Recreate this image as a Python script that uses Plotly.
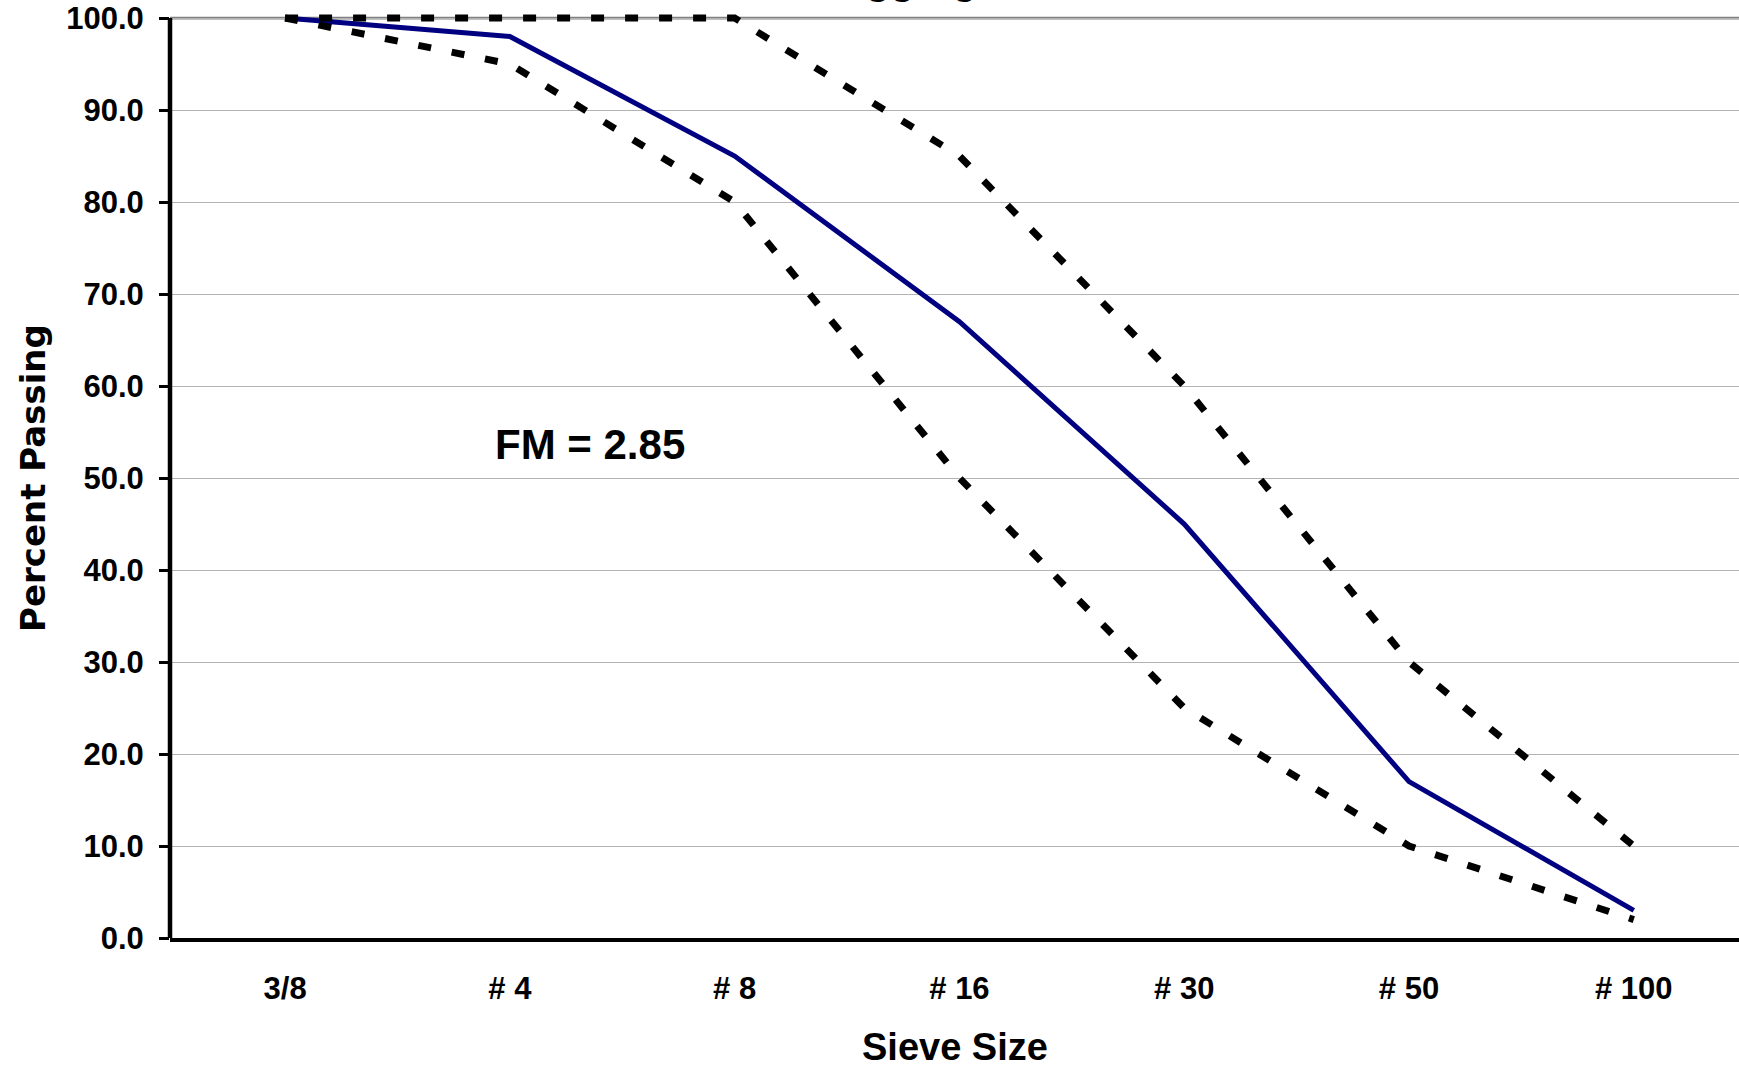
import plotly.graph_objects as go

# ---- data ----
sieves = ["3/8", "# 4", "# 8", "# 16", "# 30", "# 50", "# 100"]
sample = [100, 98, 85, 67, 45, 17, 3]
upper_limit = [100, 100, 100, 85, 60, 30, 10]
lower_limit = [100, 95, 80, 50, 25, 10, 2]
y_ticks = [0, 10, 20, 30, 40, 50, 60, 70, 80, 90, 100]
fm_label = "FM = 2.85"
title_text = "Fine Aggregate Gradation"

W, H = 1739, 1069
ML, MR, MT, MB = 170, 0, 7, 131
plot_w = W - ML - MR
plot_h = H - MT - MB

FONT = "Liberation Sans, Arial, sans-serif"
x_idx = list(range(len(sieves)))

fig = go.Figure()
fig.add_trace(go.Scatter(x=x_idx, y=sample, mode="lines",
                         line=dict(color="#000080", width=5),
                         showlegend=False, hoverinfo="skip"))
fig.add_trace(go.Scatter(x=x_idx, y=upper_limit, mode="lines",
                         line=dict(color="black", width=7, dash="13px,21px"),
                         showlegend=False, hoverinfo="skip"))
fig.add_trace(go.Scatter(x=x_idx, y=lower_limit, mode="lines",
                         line=dict(color="black", width=7, dash="13px,21px"),
                         showlegend=False, hoverinfo="skip"))

fig.update_layout(
    width=W, height=H,
    margin=dict(l=ML, r=MR, t=MT, b=MB, pad=0),
    paper_bgcolor="white", plot_bgcolor="white",
    showlegend=False,
    xaxis=dict(
        range=[-0.512, 6.468],
        tickmode="array", tickvals=x_idx, ticktext=sieves,
        ticks="", showgrid=False, zeroline=False,
        showline=True, linecolor="black", linewidth=4,
        tickfont=dict(family=FONT, size=31, color="black", weight="bold"),
        ticklabelstandoff=20,
    ),
    yaxis=dict(
        range=[0, 101.2],
        tickmode="array", tickvals=y_ticks,
        tickformat=".1f",
        ticks="outside", ticklen=10, tickwidth=3, tickcolor="black",
        showgrid=True, gridcolor="#b3b3b3", gridwidth=1.2,
        zeroline=False, showline=False,
        tickfont=dict(family=FONT, size=31, color="black", weight="bold"),
        ticklabelstandoff=9,
    ),
    shapes=[
        dict(type="line", xref="paper", yref="y", x0=0, x1=1, y0=100, y1=100,
             line=dict(color="#808080", width=2.7), layer="below"),
        dict(type="line", xref="paper", yref="y", x0=0, x1=0, y0=0, y1=100,
             line=dict(color="black", width=4.5), layer="above"),
    ],
    annotations=[
        dict(text=fm_label, xref="x", yref="y", x=1.357, y=53.6,
             showarrow=False, xanchor="center", yanchor="middle",
             font=dict(family=FONT, size=42, color="black", weight="bold")),
        dict(text="Sieve Size", xref="paper", yref="paper",
             x=0.5, y=(938 - 1047) / plot_h,
             showarrow=False, xanchor="center", yanchor="middle",
             font=dict(family=FONT, size=38, color="black", weight="bold")),
        dict(text="Percent Passing", xref="paper", yref="paper",
             x=(33 - ML) / plot_w, y=(938 - 478) / plot_h, textangle=-90,
             showarrow=False, xanchor="center", yanchor="middle",
             font=dict(family="DejaVu Sans, sans-serif", size=34, color="black", weight="bold")),
        dict(text=title_text, xref="paper", yref="paper",
             x=(743 - ML) / plot_w, y=1 + (MT - 4) / plot_h,
             showarrow=False, xanchor="left", yanchor="bottom",
             font=dict(family=FONT, size=40, color="black", weight="bold")),
    ],
)

fig.write_html(
    "out.html",
    config={"displayModeBar": False},
    post_script="document.body.style.margin='0';document.body.style.overflow='hidden';",
)
